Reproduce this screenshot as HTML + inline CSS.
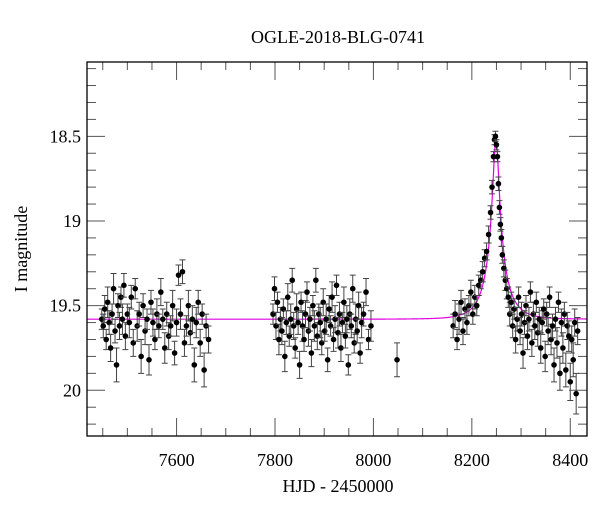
<!DOCTYPE html>
<html><head><meta charset="utf-8"><style>
html,body{margin:0;padding:0;background:#fff}
svg text{font-family:"Liberation Serif",serif;fill:#000}
</style></head><body>
<svg id="chart" width="600" height="512" viewBox="0 0 600 512" xmlns="http://www.w3.org/2000/svg">
<text x="338" y="43" font-size="18" text-anchor="middle">OGLE-2018-BLG-0741</text>
<text x="338" y="492" font-size="18" text-anchor="middle">HJD - 2450000</text>
<text transform="translate(27,249) rotate(-90)" font-size="18" text-anchor="middle">I magnitude</text>
<g id="plot"></g>
</svg>
<script>
const xTickLabels=[7600,7800,8000,8200,8400];
const yTickLabels=[18.5,19,19.5,20];
const times=[7448,7451,7454,7457,7460,7463,7466,7469,7472,7475,7478,7481,7484,7487,7490,7493,7496,7500,7504,7508,7512,7516,7520,7524,7528,7532,7536,7540,7544,7548,7552,7556,7560,7564,7568,7572,7576,7580,7584,7588,7592,7596,7600,7604,7608,7612,7616,7620,7624,7628,7632,7636,7640,7644,7648,7652,7656,7660,7665,
7796,7799,7802,7805,7808,7811,7814,7817,7820,7823,7826,7829,7832,7835,7838,7841,7844,7847,7850,7853,7856,7859,7862,7865,7868,7871,7874,7877,7880,7883,7886,7889,7892,7895,7898,7901,7904,7907,7910,7913,7916,7919,7922,7925,7928,7931,7934,7937,7940,7943,7946,7949,7952,7955,7958,7961,7964,7967,7970,7973,7976,7980,7985,7990,7995,8048,
8162,8166,8170,8174,8178,8182,8186,8190,8194,8198,8202,8206,8210,8214,8218,8222,8226,8230,8234,8238,8241,8244,8246,8248,8250,8252,8254,8256,8258,8260,8262,8265,8268,8271,8274,8277,8280,8283,8286,8289,8292,8295,8298,8301,8304,8307,8310,8313,8316,8319,8322,8325,8328,8331,8334,8337,8340,8343,8346,8349,8352,8355,8358,8361,8364,8367,8370,8373,8376,8379,8382,8385,8388,8391,8394,8397,8400,8403,8406,8409,8412,8415];
const mags=[19.58,19.62,19.52,19.70,19.48,19.60,19.75,19.55,19.40,19.65,19.85,19.50,19.62,19.45,19.58,19.38,19.68,19.55,19.60,19.45,19.72,19.40,19.62,19.55,19.80,19.50,19.65,19.58,19.82,19.48,19.60,19.70,19.55,19.62,19.42,19.58,19.75,19.55,19.68,19.62,19.50,19.78,19.60,19.32,19.55,19.30,19.72,19.62,19.50,19.66,19.58,19.85,19.60,19.48,19.72,19.55,19.88,19.62,19.70,
19.55,19.40,19.62,19.48,19.70,19.58,19.65,19.52,19.80,19.60,19.45,19.68,19.58,19.35,19.62,19.75,19.52,19.60,19.85,19.48,19.62,19.70,19.55,19.42,19.65,19.58,19.78,19.50,19.62,19.35,19.68,19.55,19.60,19.72,19.48,19.65,19.58,19.82,19.52,19.62,19.45,19.70,19.58,19.38,19.66,19.55,19.75,19.60,19.48,19.68,19.58,19.85,19.55,19.62,19.40,19.72,19.58,19.65,19.50,19.78,19.60,19.55,19.42,19.70,19.62,19.82,
19.62,19.55,19.70,19.58,19.48,19.65,19.52,19.60,19.50,19.42,19.55,19.45,19.50,19.38,19.35,19.30,19.22,19.18,19.08,18.95,18.80,18.62,18.52,18.50,18.55,18.62,18.78,18.92,19.02,19.10,19.20,19.28,19.35,19.40,19.45,19.55,19.48,19.62,19.52,19.70,19.58,19.45,19.65,19.55,19.78,19.60,19.50,19.68,19.58,19.42,19.72,19.55,19.62,19.48,19.66,19.58,19.75,19.60,19.52,19.80,19.55,19.65,19.45,19.70,19.62,19.85,19.58,19.72,19.48,19.90,19.60,19.75,19.55,19.88,19.62,19.68,19.95,19.70,19.82,19.60,20.02,19.65];
const errs=[0.06,0.07,0.08,0.06,0.09,0.07,0.08,0.06,0.09,0.07,0.1,0.07,0.08,0.06,0.09,0.07,0.08,0.06,0.09,0.07,0.08,0.06,0.09,0.07,0.1,0.07,0.08,0.06,0.09,0.07,0.08,0.06,0.09,0.07,0.08,0.06,0.09,0.07,0.08,0.06,0.09,0.07,0.08,0.06,0.09,0.07,0.08,0.06,0.09,0.07,0.08,0.1,0.09,0.07,0.08,0.06,0.1,0.07,0.08,
0.06,0.07,0.08,0.06,0.09,0.07,0.08,0.06,0.09,0.07,0.08,0.06,0.09,0.07,0.08,0.06,0.09,0.07,0.08,0.06,0.09,0.07,0.08,0.06,0.09,0.07,0.08,0.06,0.09,0.07,0.08,0.06,0.09,0.07,0.08,0.06,0.09,0.07,0.08,0.06,0.09,0.07,0.08,0.06,0.09,0.07,0.08,0.06,0.09,0.07,0.08,0.06,0.09,0.07,0.08,0.06,0.09,0.07,0.08,0.06,0.09,0.07,0.08,0.06,0.09,0.1,
0.07,0.08,0.06,0.09,0.07,0.08,0.06,0.07,0.06,0.07,0.06,0.07,0.06,0.06,0.05,0.06,0.05,0.05,0.05,0.04,0.04,0.03,0.03,0.03,0.03,0.03,0.04,0.04,0.04,0.05,0.05,0.05,0.06,0.06,0.06,0.07,0.06,0.07,0.06,0.08,0.07,0.06,0.08,0.07,0.09,0.07,0.06,0.08,0.07,0.06,0.08,0.07,0.08,0.06,0.08,0.07,0.09,0.07,0.06,0.09,0.07,0.08,0.06,0.09,0.07,0.1,0.07,0.09,0.06,0.1,0.08,0.09,0.07,0.1,0.08,0.09,0.11,0.08,0.1,0.08,0.12,0.08];
const modelParams={t0:8249,u0:0.15,tE:40,fs:0.29,base:19.58};

const L=87,R=587,T=62,B=436;
const xMin=7418,xMax=8434,yMin=18.061,yMax=20.27;
const sx=v=>L+(v-xMin)/(xMax-xMin)*(R-L);
const sy=v=>T+(v-yMin)/(yMax-yMin)*(B-T);
const NS="http://www.w3.org/2000/svg";
const g=document.getElementById('plot');
function mk(tag,attrs){const e=document.createElementNS(NS,tag);for(const k in attrs)e.setAttribute(k,attrs[k]);g.appendChild(e);return e;}

for(let v=7450;v<=8430;v+=50){
  const major=v%200===0, x=sx(v), len=major?18:8;
  const t1=mk('line',{x1:x,x2:x,y1:B,y2:B-len,stroke:'#555','stroke-width':1});
  
  
  const t2=mk('line',{x1:x,x2:x,y1:T,y2:T+len,stroke:'#555','stroke-width':1});
  
  
}
xTickLabels.forEach(v=>{
  const t=mk('text',{x:sx(v),y:B+30,'font-size':18,'text-anchor':'middle'});
  t.textContent=v;
  
  
});
for(let i=0;i<=22;i++){
  const v=18.1+i*0.1; if(v>yMax)break;
  const major=Math.abs(v*2-Math.round(v*2))<1e-6, y=sy(v), len=major?18:9;
  const t1=mk('line',{x1:L,x2:L+len,y1:y,y2:y,stroke:'#555','stroke-width':1});
  
  
  const t2=mk('line',{x1:R,x2:R-len,y1:y,y2:y,stroke:'#555','stroke-width':1});
  
  
}
yTickLabels.forEach(v=>{
  const t=mk('text',{x:L-6,y:sy(v)+6,'font-size':18,'text-anchor':'end'});
  t.textContent=v;
  
  
});
let d='';
for(let t=xMin;t<=xMax;t+=0.5){
  const u=Math.sqrt(modelParams.u0**2+((t-modelParams.t0)/modelParams.tE)**2);
  const A=(u*u+2)/(u*Math.sqrt(u*u+4));
  const m=modelParams.base-2.5*Math.log10(modelParams.fs*(A-1)+1);
  d+=(d?'L':'M')+sx(t).toFixed(2)+','+sy(m).toFixed(2);
}
const ml=mk('path',{d:d,fill:'none',stroke:'#e000e0','stroke-width':1.2});


times.forEach((t,i)=>{
  const x=sx(t),y=sy(mags[i]),y1=sy(mags[i]-errs[i]),y2=sy(mags[i]+errs[i]);
  const eb=mk('path',{d:`M${x},${y1}L${x},${y2}M${x-3},${y1}L${x+3},${y1}M${x-3},${y2}L${x+3},${y2}`,stroke:'#444','stroke-width':1,fill:'none'});
  
  
  const c=mk('circle',{cx:x,cy:y,r:2.8,fill:'#000'});
  
  
});
const fr=mk('rect',{x:L,y:T,width:R-L,height:B-T,fill:'none',stroke:'#000','stroke-width':1.3});


</script>
</body></html>
